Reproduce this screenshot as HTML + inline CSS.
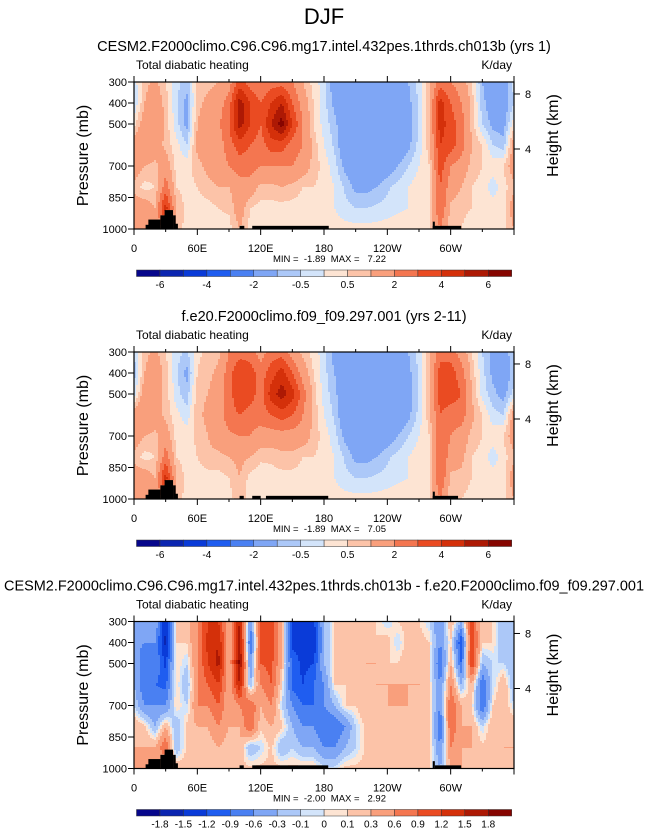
<!DOCTYPE html>
<html><head><meta charset="utf-8">
<style>
html,body{margin:0;padding:0;background:#fff;}
svg text{font-family:"Liberation Sans",sans-serif;fill:#000;}
</style></head>
<body>
<svg id="fig" width="648" height="832" viewBox="0 0 648 832" xmlns="http://www.w3.org/2000/svg">
<text x="324" y="24" font-size="22" text-anchor="middle">DJF</text>
</svg>
<script>
// ---- data ----
const lons = [0,10,20,30,40,50,60,70,80,90,100,110,120,130,140,150,160,170,180,190,200,210,220,230,240,250,260,270,280,290,300,310,320,330,340,350,360];
const pressures = [300,400,500,600,700,800,900,1000];
const levelsAbs = [-6,-5,-4,-3,-2,-1,-0.5,0,0.5,1,2,3,4,5,6];
const levelsDiff = [-1.8,-1.5,-1.2,-0.9,-0.6,-0.3,-0.1,0,0.1,0.3,0.6,0.9,1.2,1.5,1.8];
const labelsAbs = ["-6","","-4","","-2","","-0.5","","0.5","","2","","4","","6"];
const labelsDiff = ["-1.8","-1.5","-1.2","-0.9","-0.6","-0.3","-0.1","0","0.1","0.3","0.6","0.9","1.2","1.5","1.8"];
const xTickLons = [0,60,120,180,240,300];
const xTickLabels = ["0","60E","120E","180","120W","60W"];
const pTicks = [300,400,500,700,850,1000];
const hTicks = [357,619];
const hTickLabels = ["8","4"];
const field1 = [
[-0.3,0.8,1.2,0.5,-0.3,-0.8,0.6,0.8,1.0,1.5,3.5,2.5,2.0,2.5,2.5,2.0,1.0,0.3,-0.3,-1.5,-1.6,-1.6,-1.6,-1.6,-1.6,-1.6,-1.0,-0.3,0.8,2.5,2.0,1.5,0.5,-1.0,-1.5,-1.5,-0.3],
[-0.5,1.0,1.5,0.8,-0.4,-1.2,0.8,1.2,1.5,2.5,5.5,4,3,4,5,3,1.5,0.5,-0.3,-1.2,-1.7,-1.7,-1.7,-1.7,-1.7,-1.7,-1.2,-0.4,1.0,4.5,3.0,2.0,0.8,-0.8,-1.5,-1.5,-0.5],
[0.3,1.5,2.0,0.8,-0.3,-1.2,1.0,1.5,1.8,3,5.5,4,3,5,6.5,4,2,0.5,-0.2,-0.8,-1.7,-1.8,-1.8,-1.8,-1.8,-1.7,-1.3,-0.5,1.0,4.5,3.5,2.5,0.8,-0.5,-1.2,-1.3,0.3],
[1.5,2.0,1.5,0.8,0.2,-0.5,1.2,1.5,1.5,2.5,3.5,3,2.5,3.5,3.5,2.5,2,0.8,0,-0.6,-1.7,-1.8,-1.8,-1.8,-1.8,-1.7,-1.2,-0.3,0.8,4,3.5,2.5,1.0,0.5,-0.5,-0.8,1.5],
[1.5,1.0,0.8,1.5,0.3,0.3,0.8,1.2,1.5,2,2.5,2.5,2,2,2,2,1.5,0.8,0.3,-0.3,-1.2,-1.7,-1.7,-1.7,-1.5,-1.0,-0.5,0,0.5,3.5,2,1.5,0.8,0.5,0.3,0.5,1.5],
[0.8,0.3,0.5,2.5,0.5,0.3,0.5,0.8,1,1,1.5,1.5,0.8,0.8,1,0.8,0.5,0.5,0.3,0,-0.6,-1.2,-1.2,-1.0,-0.6,-0.3,0,0.3,0.5,3,1.5,1,0.5,0.3,-0.3,0.3,0.8],
[1.5,1.5,1.0,4.5,1.0,0.3,0.3,0.3,0.5,0.6,1.5,0.5,0.3,0.3,0.3,0.3,0.3,0.3,0.3,0,-0.3,-0.5,-0.5,-0.4,-0.3,-0.1,0,0.3,0.5,3,0.8,0.6,0.5,0.3,0.3,0.3,1.5],
[1,2,1.5,2,0.8,0.3,0.3,0.3,0.3,0.3,1,0.3,0.3,0.3,0.3,0.3,0.3,0.3,0.3,0.2,0.2,0.2,0.2,0.2,0.3,0.3,0.3,0.3,0.3,2,0.5,0.5,0.3,0.3,0.3,0.3,1]];
const field2 = [
[-0.5,0.8,1.2,0.5,-0.3,-0.6,0.4,0.6,0.8,2.0,2.5,2.5,1.5,2.5,2.5,1.5,0.8,0.3,-0.3,-1.3,-1.6,-1.6,-1.6,-1.6,-1.6,-1.6,-1.0,-0.3,0.8,2.5,2.5,1.5,0.5,-0.5,-1.2,-1.5,-0.5],
[-0.8,1.0,1.5,0.8,-0.4,-1.2,0.5,0.8,1.2,2.5,4.0,3.5,2.5,3.5,4.5,3,1.5,0.5,-0.3,-1.0,-1.7,-1.7,-1.7,-1.7,-1.7,-1.7,-1.2,-0.4,1.0,3.5,3.5,2.5,0.8,-0.3,-1.2,-1.5,-0.8],
[-0.3,1.5,1.5,0.8,-0.3,-0.8,0.8,1.0,1.5,2.5,4.0,3.5,2.5,4.5,5.5,4.5,2.5,0.8,-0.2,-0.8,-1.7,-1.8,-1.8,-1.8,-1.8,-1.7,-1.3,-0.5,1.0,3.5,3.5,3.0,1.0,-0.2,-0.8,-1.3,-0.3],
[1.5,2.0,1.5,0.8,0.2,-0.3,0.8,1.2,1.5,2.5,3.0,2.5,2.5,3.0,3.5,3.0,2.0,0.8,0,-0.6,-1.7,-1.8,-1.8,-1.8,-1.8,-1.7,-1.2,-0.3,0.8,3.0,2.5,2.5,1.2,0.5,-0.3,-0.5,1.5],
[1.5,1.0,0.8,1.5,0.3,0.3,0.6,1.0,1.5,1.8,2.0,2.0,1.5,1.5,1.5,1.5,1.5,0.8,0.3,-0.3,-1.2,-1.7,-1.7,-1.7,-1.5,-1.0,-0.5,0,0.5,3.0,2.0,1.5,0.8,0.5,0.3,0.5,1.5],
[0.8,0.3,0.5,2.5,0.5,0.3,0.5,0.8,0.8,1,1.2,1.0,0.6,0.6,0.8,0.8,0.5,0.5,0.3,0,-0.6,-1.2,-1.2,-1.0,-0.6,-0.3,0,0.3,0.5,3,1.5,1.2,0.5,0.3,-0.3,0.3,0.8],
[1.5,1.5,1.0,4.5,1.0,0.3,0.3,0.3,0.3,0.5,1.0,0.3,0.2,0.3,0.3,0.3,0.3,0.3,0.3,0,-0.3,-0.5,-0.5,-0.4,-0.3,-0.1,0,0.3,0.5,3,0.8,0.8,0.5,0.3,0.3,0.3,1.5],
[1,2,1.5,2,0.8,0.3,0.3,0.3,0.3,0.3,0.8,0.3,0.3,0.3,0.3,0.3,0.3,0.3,0.3,0.2,0.2,0.2,0.2,0.2,0.3,0.3,0.3,0.3,0.3,2,0.5,0.5,0.3,0.3,0.3,0.3,1]];
const field3 = [
[-0.3,-0.6,-0.3,-1.5,0.2,0.1,0.6,1.2,1.2,0.3,1.5,-0.6,0.9,1.2,0.3,-1.2,-1.2,-1.3,-0.3,0.1,0.2,0.1,0.2,0.1,-0.1,0.1,0.2,0.1,-0.1,-0.6,0.3,-0.3,1.0,0.1,0.1,-0.3,-0.3],
[-0.5,-0.6,-0.6,-1.6,0.1,0.1,0.6,1.3,1.5,0.3,1.8,-0.9,0.9,1.2,0.3,-1.3,-1.3,-1.5,-0.3,0.1,0.3,0.1,0.1,0.1,0.2,-0.1,0.2,0.2,0.1,-0.6,0.1,-1.2,1.2,0.1,0.1,-0.3,-0.3],
[-0.3,-0.9,-0.6,-1.3,0.1,-0.1,0.6,1.2,1.6,0.3,1.9,-0.6,0.9,1.0,0.3,-1.0,-1.3,-1.2,-0.3,0.1,0.3,0.2,0.3,0.3,0.1,0.1,0.3,0.2,0.1,-0.9,0.3,-0.9,1.2,-0.3,-0.1,-0.1,-0.3],
[-0.3,-0.9,-0.9,-1.0,0.1,-0.3,0.6,0.9,1.2,0.3,1.5,-0.3,0.6,0.9,0.1,-1.0,-1.2,-0.9,-0.6,0.1,0.1,0.3,0.1,0.3,0.3,0.3,0.3,0.3,0.1,-0.6,0.6,-0.3,0.3,-0.9,-0.1,0.3,-0.3],
[-0.1,-0.6,-0.6,-0.6,0.1,-0.1,0.6,0.6,0.9,0.3,0.6,0.9,0.3,0.6,-0.1,-0.6,-0.9,-0.9,-0.6,-0.3,0.1,0.1,0.3,0.1,0.3,0.3,0.3,0.1,0.1,-0.6,0.9,0.3,0.1,-0.9,0.1,0.3,-0.1],
[0.3,0.15,-0.3,0.3,-0.3,0.15,0.3,0.3,0.6,0.3,0.3,0.9,0.15,0.3,0.15,-0.3,-0.6,-0.6,-0.9,-0.9,-0.6,-0.1,0.15,0.15,0.3,0.15,0.3,0.15,0.15,-0.9,0.9,0.3,0.3,-0.1,0.3,0.15,0.3],
[0.3,0.3,0.3,0.9,-0.3,0.15,0.3,0.15,0.3,0.15,0.3,-0.3,-0.1,0.15,-0.3,-0.1,-0.3,-0.3,-0.6,-0.6,-0.3,-0.1,0.15,0.15,0.15,0.15,0.15,0.15,0.15,-0.6,0.6,0.3,0.3,0.15,0.15,0.3,0.3],
[0.3,0.3,0.3,0.3,0.3,0.15,0.15,0.15,0.15,0.15,0.15,0.15,0.15,0.15,0.15,0.15,0.15,0.15,-0.05,-0.05,0.15,0.15,0.15,0.15,0.15,0.15,0.15,0.15,0.15,-0.3,0.3,0.3,0.15,0.15,0.15,0.15,0.3]];
// topography boxes: [lonStart, lonEnd, topPressure]
const topo1 = [[11,14,980],[13.6,25,955],[25,29.5,935],[29,37,910],[37,39.5,935],[39,41.6,975],[100,104.5,985],[112,184.5,985],[283,285,965],[283,310,985]];
const topo2 = [[11,14,980],[13.6,25,955],[25,29.5,935],[29,37,910],[37,39.5,935],[39,41.6,975],[100,104,985],[112,120,985],[125,184,985],[283,285,965],[283,307,985]];
const topo3 = [[11,14,980],[13.6,25,955],[25,29.5,935],[29,37,910],[37,39.5,935],[39,41.6,975],[100,104,985],[112,184,985],[283,285,965],[285,310,985]];
const colors = ['#06068b','#0b25b0','#0a3bd8','#1f5df0','#4a80f2','#7fa6f5','#acc8f8','#d3e4fa','#fde4d3','#fcc3a8','#f99f7c','#f47650','#ea4b22','#d4300a','#ad1904','#860500'];

const NS='http://www.w3.org/2000/svg';
const svg=document.getElementById('fig');
function mk(tag,attrs,parent){const e=document.createElementNS(NS,tag);for(const k in attrs)e.setAttribute(k,attrs[k]);(parent||svg).appendChild(e);return e;}
function txt(s,attrs,parent){const e=mk('text',attrs,parent);e.textContent=s;return e;}

const X0=134,X1=514;
function xs(lon){return X0+(lon/360)*(X1-X0);}

function interp(field,lon,p){
  let ci=Math.min(Math.floor(lon/10),lons.length-2), cf=(lon-lons[ci])/10;
  let ri=Math.min(Math.floor((p-300)/100),pressures.length-2), rf=(p-pressures[ri])/100;
  const a=field[ri][ci],b=field[ri][ci+1],c=field[ri+1][ci],d=field[ri+1][ci+1];
  return (a*(1-cf)+b*cf)*(1-rf)+(c*(1-cf)+d*cf)*rf;
}
function bin(v,levels){let i=0;while(i<levels.length&&v>=levels[i]-1e-9)i++;return i;}

function panel(cfg){
  const {top,title,field,levels,labels,topo,minmax,name}=cfg;
  const H=147, bot=top+H;
  const ys=p=>top+(p-300)/700*H;
  const g=mk('g',{},svg);
  
  
  const t=txt(title,{x:324,y:top-31,'font-size':14.5,'text-anchor':'middle'},g);
  
  
  if(cfg.fit){t.setAttribute('textLength',cfg.fit);t.setAttribute('lengthAdjust','spacingAndGlyphs');}
  const st=txt('Total diabatic heating',{x:136,y:top-13,'font-size':12},g);
  
  
  const un=txt('K/day',{x:512,y:top-13,'font-size':12,'text-anchor':'end'},g);
  
  
  const fg=mk('g',{},g);
  
  
  const dx=2,dy=1;
  const y0=Math.floor(top);
  for(let y=y0;y<bot-0.01;y+=dy){
    const yt=Math.max(y,top);
    const p=300+((y+dy/2-top)/H)*700;
    let runStart=X0,runC=-1;
    for(let x=X0;x<=X1;x+=dx){
      let c=-1;
      if(x<X1){const lon=(x+dx/2-X0)/(X1-X0)*360;c=bin(interp(field,lon,p),levels);}
      if(c!==runC){
        if(runC>=0){const r=mk('rect',{x:runStart,y:yt,width:Math.min(x,X1)-runStart+0.4,height:Math.min(y+dy+0.6,bot)-yt,fill:colors[runC]},fg);
          
          }
        runStart=x;runC=c;
      }
    }
  }
  topo.forEach(b=>{
    const r=mk('rect',{x:xs(b[0]),y:ys(b[2]),width:xs(b[1])-xs(b[0]),height:bot-ys(b[2]),fill:'#000'},g);
    
    
  });
  const fr=mk('rect',{x:X0,y:top,width:X1-X0,height:H,fill:'none',stroke:'#000','stroke-width':1.2},g);
  
  
  for(let lon=0;lon<=360;lon+=30){
    const major=lon%60===0, L=major?6:3;
    mk('line',{x1:xs(lon),x2:xs(lon),y1:top,y2:top-L,stroke:'#000','stroke-width':1},g);
    mk('line',{x1:xs(lon),x2:xs(lon),y1:bot,y2:bot+L,stroke:'#000','stroke-width':1},g);
  }
  xTickLons.forEach((lon,i)=>{
    const e=txt(xTickLabels[i],{x:xs(lon),y:bot+23,'font-size':11,'text-anchor':'middle'},g);
    
    
  });
  pTicks.forEach(p=>{
    mk('line',{x1:X0,x2:X0-6,y1:ys(p),y2:ys(p),stroke:'#000','stroke-width':1},g);
    const e=txt(String(p),{x:127,y:ys(p)+4,'font-size':11,'text-anchor':'end'},g);
    
    
  });
  hTicks.forEach((p,i)=>{
    mk('line',{x1:X1,x2:X1+6,y1:ys(p),y2:ys(p),stroke:'#000','stroke-width':1},g);
    const e=txt(hTickLabels[i],{x:525,y:ys(p)+4,'font-size':11},g);
    
    
  });
  const yl=txt('Pressure (mb)',{x:0,y:0,'font-size':16,'text-anchor':'middle',transform:`translate(88,${top+H/2}) rotate(-90)`},g);
  
  
  const hl=txt('Height (km)',{x:0,y:0,'font-size':16,'text-anchor':'middle',transform:`translate(558,${top+H/2-20}) rotate(-90)`},g);
  
  
  const mm=txt(minmax,{x:273,y:bot+33,'font-size':9.5},g);
  
  
  const cy=bot+41, cx0=136.5, cx1=511.7, w=(cx1-cx0)/16;
  const cb=mk('g',{},g);
  
  
  colors.forEach((c,i)=>{
    const r=mk('rect',{x:cx0+i*w,y:cy,width:w,height:6.5,fill:c,stroke:'#333','stroke-width':0.5},cb);
    
    
  });
  labels.forEach((s,i)=>{
    if(!s)return;
    const e=txt(s,{x:cx0+(i+1)*w,y:cy+18,'font-size':10,'text-anchor':'middle'},cb);
    
    
  });
}
const sp='\u00a0';
panel({name:'panel-model',top:82,title:'CESM2.F2000climo.C96.C96.mg17.intel.432pes.1thrds.ch013b (yrs 1)',field:field1,levels:levelsAbs,labels:labelsAbs,topo:topo1,minmax:'MIN ='+sp+sp+'-1.89'+sp+sp+'MAX ='+sp+sp+' 7.22'});
panel({name:'panel-control',top:352,title:'f.e20.F2000climo.f09_f09.297.001 (yrs 2-11)',field:field2,levels:levelsAbs,labels:labelsAbs,topo:topo2,minmax:'MIN ='+sp+sp+'-1.89'+sp+sp+'MAX ='+sp+sp+' 7.05'});
panel({name:'panel-difference',top:621.5,title:'CESM2.F2000climo.C96.C96.mg17.intel.432pes.1thrds.ch013b - f.e20.F2000climo.f09_f09.297.001',fit:640,field:field3,levels:levelsDiff,labels:labelsDiff,topo:topo3,minmax:'MIN ='+sp+sp+'-2.00'+sp+sp+'MAX ='+sp+sp+' 2.92'});
</script>
</body></html>
